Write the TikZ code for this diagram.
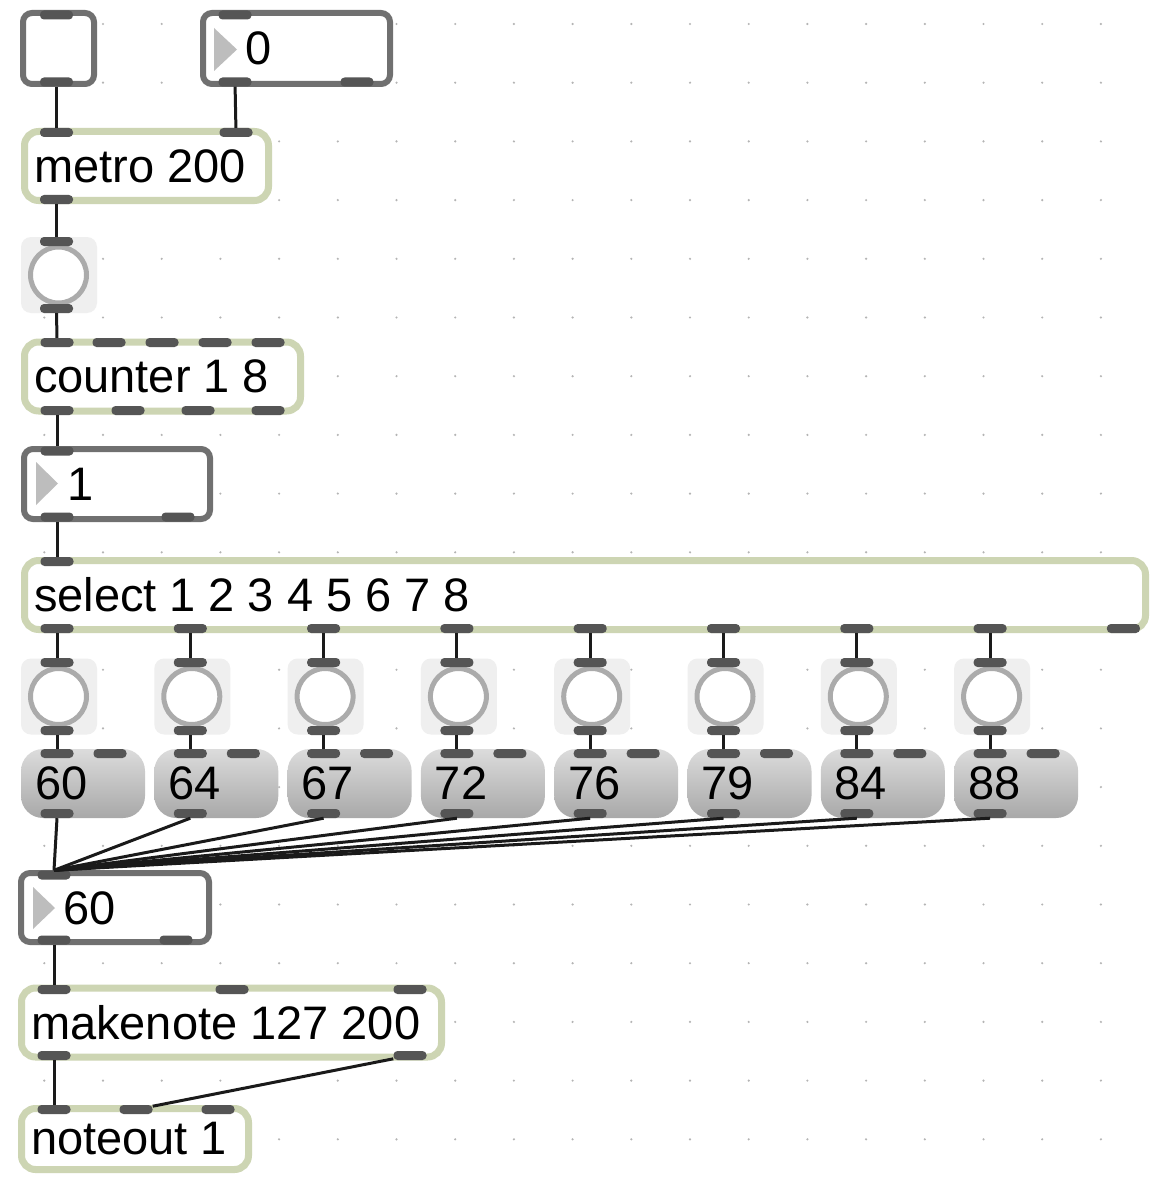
\documentclass[tikz,border=0pt]{standalone}
\usepackage{fontspec}
\setmainfont{Liberation Sans}
\definecolor{objc}{HTML}{CDD5B3}
\definecolor{uic}{HTML}{707070}
\definecolor{portc}{HTML}{555555}
\definecolor{wirec}{HTML}{1A1A1A}
\definecolor{bangc}{HTML}{EFEFEF}
\definecolor{ringc}{HTML}{ABABAB}
\definecolor{msgtop}{HTML}{DCDCDC}
\definecolor{msgbot}{HTML}{A8A8A8}
\definecolor{tric}{HTML}{BDBDBD}
\definecolor{dotc}{HTML}{B4B4B4}
\begin{document}
\begin{tikzpicture}[x=1pt,y=-1pt,font=\fontsize{47}{56}\selectfont,
  execute at begin node={\spaceskip=13pt\relax},
  obj/.style={draw=objc,line width=7,fill=white,rounded corners=14,inner xsep=9.5,inner ysep=0,align=left,minimum height=69},
  ui/.style={draw=uic,line width=6,fill=white,rounded corners=9,inner sep=0},
  port/.style={fill=portc,rounded corners=4,minimum width=33,minimum height=9,inner sep=0},
  wire/.style={draw=wirec,line width=3},
  bangbg/.style={fill=bangc,rounded corners=10,minimum width=76,minimum height=76,inner sep=0},
  ring/.style={draw=ringc,fill=white,line width=5,circle,minimum size=56,inner sep=0},
  msg/.style={rounded corners=22,top color=msgtop,bottom color=msgbot,minimum height=69,inner xsep=14,inner ysep=0,text width=96,align=left},
  tri/.style={fill=tric},
  lbl/.style={inner sep=0,anchor=west}]
\useasboundingbox (0,0) rectangle (1153,1177);
\fill[white] (0,0) rectangle (1153,1177);
% patcher grid
\foreach \i in {0,...,18} \foreach \j in {0,...,19}
  \fill[dotc] ({44.3+58.7*\i},{24+58.7*\j}) circle (1.2);

% toggle, number box, metro, bang
\node[ui,minimum width=71,minimum height=71] (tog) at (58.5,48.5) {};
\node[ui,minimum width=187,minimum height=71] (num0) at (296.5,48.5) {};
\fill[tri] (214,28) -- (214,71) -- (237,49.5) -- cycle;
\node[lbl] (num0-t) at (245.5,48.5) {0};
\node[obj,text width=225] (metro) at (146.5,166) {metro 200};
\node[bangbg] (bng) at (59,275) {};
\node[ring] (bng-r) at (58.5,275) {};

% counter, number box, select
\node[obj,text width=257] (counter) at (162.5,376.5) {counter 1 8};
\node[ui,minimum width=186,minimum height=70] (num1) at (117,484) {};
\fill[tri] (36,462) -- (36,505) -- (58,483.5) -- cycle;
\node[lbl] (num1-t) at (67,484.5) {1};
\node[obj,text width=1102] (select) at (585,595) {select 1 2 3 4 5 6 7 8};

% lower part
\node[ui,minimum width=188,minimum height=69] (num60) at (115,907.5) {};
\fill[tri] (33,887) -- (33,929) -- (55,908) -- cycle;
\node[lbl] (num60-t) at (63,908.5) {60};
\node[obj,text width=401] (makenote) at (231.5,1022.5) {makenote 127 200};
\node[obj,text width=208,minimum height=61] (noteout) at (135,1139) {noteout 1};

% inlets and outlets
\node[port] (tog-i) at (56.5,15) {};
\node[port] (tog-o) at (56.5,82) {};
\node[port] (num0-i) at (235,15) {};
\node[port] (num0-o1) at (235,82) {};
\node[port] (num0-o2) at (357,82) {};
\node[port] (metro-i1) at (56.5,132.5) {};
\node[port] (metro-i2) at (236,132.5) {};
\node[port] (metro-o) at (56.5,199.5) {};
\node[port] (bng-i) at (56.5,241.5) {};
\node[port] (bng-o) at (56.5,308.5) {};
\foreach \x [count=\n] in {57,109,162,215,268}
  \node[port] (counter-i\n) at (\x,342.5) {};
\foreach \x [count=\n] in {57,128,198,268}
  \node[port] (counter-o\n) at (\x,410.5) {};
\node[port] (num1-i) at (57,451) {};
\node[port] (num1-o1) at (57,517) {};
\node[port] (num1-o2) at (178,517) {};
\node[port] (select-i) at (57,561.5) {};
\foreach \k in {0,...,8}
  \node[port] (select-o\k) at (57+133.3*\k,628.5) {};
\node[port] (num60-i) at (54,875) {};
\node[port] (num60-o1) at (54,940) {};
\node[port] (num60-o2) at (176,940) {};
\foreach \x [count=\n] in {54,232,410}
  \node[port] (makenote-i\n) at (\x,989.5) {};
\node[port] (makenote-o1) at (54,1055.5) {};
\node[port] (makenote-o2) at (410,1055.5) {};
\foreach \x [count=\n] in {54,136,218}
  \node[port] (noteout-i\n) at (\x,1109.5) {};

% the eight bang + message columns
\foreach \v [count=\k from 0] in {60,64,67,72,76,79,84,88} {
  \pgfmathsetmacro\cx{57+133.3*\k}
  \node[bangbg] (b\k) at (\cx+2,696.5) {};
  \node[ring] (b\k-r) at (\cx+1.5,696.5) {};
  \node[msg] (m\k) at (\cx+26,783.5) {\v};
  \node[port] (b\k-i) at (\cx,662.5) {};
  \node[port] (b\k-o) at (\cx,730.5) {};
  \node[port] (m\k-i1) at (\cx,753.5) {};
  \node[port] (m\k-i2) at (\cx+53,753.5) {};
  \node[port] (m\k-o) at (\cx,813.5) {};
  \draw[wire] (select-o\k) -- (b\k-i);
  \draw[wire] (b\k-o) -- (m\k-i1);
  \draw[wire] (m\k-o.south) -- (num60-i.north);
}

% patch cords
\draw[wire] (tog-o) -- (metro-i1);
\draw[wire] (num0-o1) -- (metro-i2);
\draw[wire] (metro-o) -- (bng-i);
\draw[wire] (bng-o) -- (counter-i1);
\draw[wire] (counter-o1) -- (num1-i);
\draw[wire] (num1-o1) -- (select-i);
\draw[wire] (num60-o1) -- (makenote-i1);
\draw[wire] (makenote-o1) -- (noteout-i1);
\draw[wire] (makenote-o2) -- (noteout-i2);
\end{tikzpicture}
\end{document}
